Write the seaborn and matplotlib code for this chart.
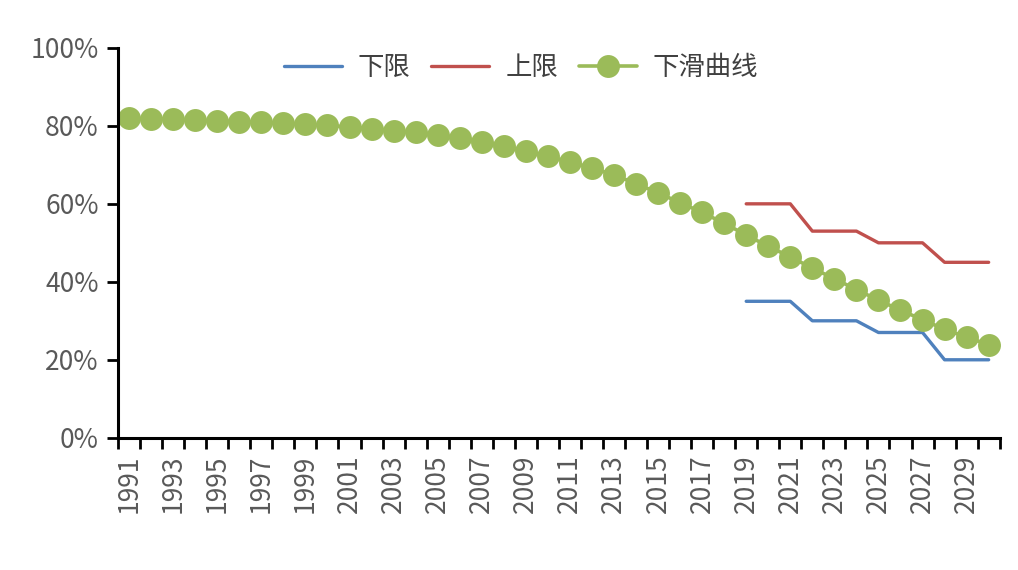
import pandas as pd
import matplotlib
matplotlib.use('Agg')
import matplotlib.pyplot as plt
import seaborn as sns
import warnings
warnings.filterwarnings('ignore')

# --- data ---
years = list(range(1991, 2031))
decline = [82.0, 81.8, 81.7, 81.5, 81.3, 81.1, 80.9, 80.7, 80.4, 80.1,
           79.7, 79.3, 78.8, 78.3, 77.6, 76.8, 75.9, 74.8, 73.5, 72.2,
           70.7, 69.2, 67.4, 65.2, 62.8, 60.3, 57.8, 55.0, 52.0, 49.1,
           46.4, 43.5, 40.8, 38.0, 35.3, 32.7, 30.3, 27.8, 25.8, 23.9]
band_years = list(range(2019, 2031))
lower = [35, 35, 35, 30, 30, 30, 27, 27, 27, 20, 20, 20]
upper = [60, 60, 60, 53, 53, 53, 50, 50, 50, 45, 45, 45]
y_ticks = [0, 20, 40, 60, 80, 100]

# x positions are category slots, like the original category axis
df_curve = pd.DataFrame({'slot': range(len(years)), 'value': decline})
first = years.index(band_years[0])
df_band = pd.DataFrame({'slot': range(first, first + len(band_years)),
                        'lower': lower, 'upper': upper})

sns.set_theme(style="ticks")
plt.rcParams['font.family'] = ['Noto Sans CJK SC', 'DejaVu Sans']

fig = plt.figure(figsize=(10.18, 5.70), dpi=100)
ax = fig.add_axes([0.116, 0.232, 0.866, 0.684])

blue, red, green = '#4F81BD', '#C0504D', '#9BBB59'
sns.lineplot(data=df_band, x='slot', y='lower', color=blue, lw=2.4, ax=ax, label='下限')
sns.lineplot(data=df_band, x='slot', y='upper', color=red, lw=2.4, ax=ax, label='上限')
sns.lineplot(data=df_curve, x='slot', y='value', color=green, lw=2.6, marker='o',
             markersize=16.5, markeredgewidth=0, ax=ax, label='下滑曲线')

ax.set_xlim(-0.5, len(years) - 0.5)
ax.set_ylim(0, 100)
ax.set_yticks(y_ticks)
ax.set_yticklabels([f'{v}%' for v in y_ticks])
ax.set_xticks(range(0, len(years), 2))
ax.set_xticklabels([str(y) for y in years[::2]], rotation=90)
ax.set_xticks([i - 0.5 for i in range(len(years) + 1)], minor=True)
ax.tick_params(axis='x', which='major', length=0, pad=12)
ax.tick_params(axis='x', which='minor', length=8, width=2, color='black', direction='out')
ax.tick_params(axis='y', length=8, width=2, color='black', direction='out', pad=6)
ax.tick_params(labelsize=19, labelcolor='#595959')
ax.set_xlabel('')
ax.set_ylabel('')

sns.despine(ax=ax)
for side in ['left', 'bottom']:
    ax.spines[side].set_color('black')
    ax.spines[side].set_linewidth(2.2)

ax.legend(loc='upper center', bbox_to_anchor=(0.457, 1.045), ncol=3, frameon=False,
          fontsize=19, handlelength=2.2, columnspacing=0.8, handletextpad=0.6,
          labelcolor='#404040')

plt.savefig('out.png', dpi=100)
